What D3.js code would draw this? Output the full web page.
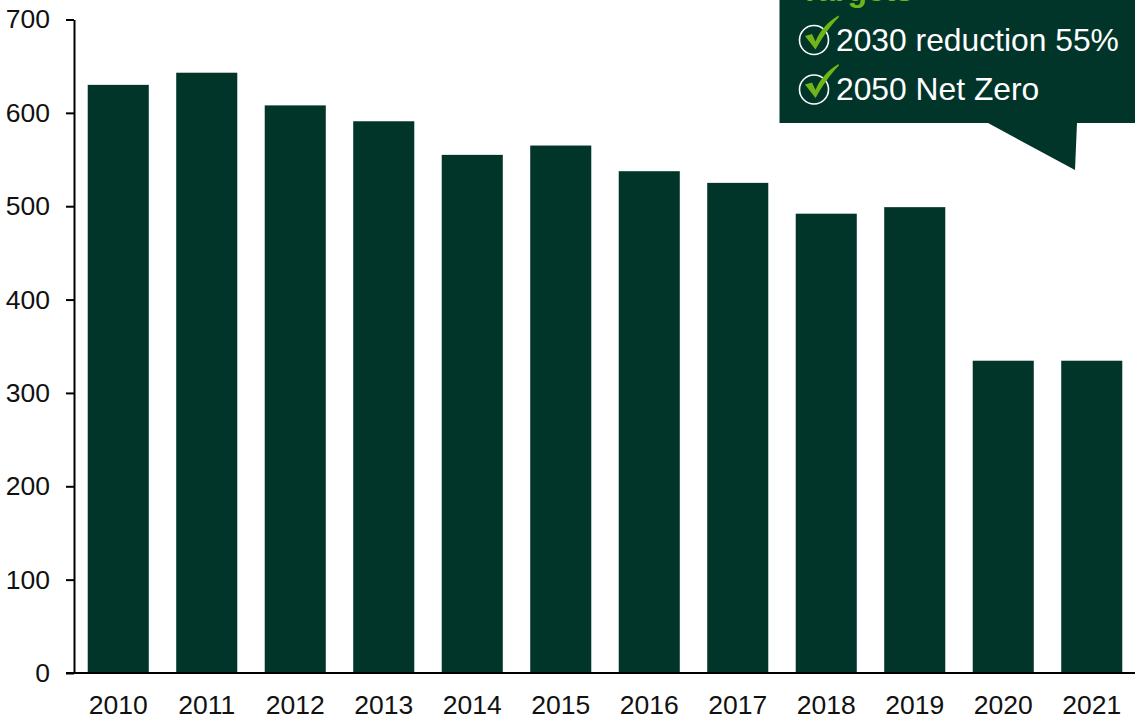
<!DOCTYPE html>
<html><head><meta charset="utf-8">
<script src="https://cdn.jsdelivr.net/npm/d3@7"></script>
<style>html,body{margin:0;padding:0;background:#fff}svg{display:block}text{font-family:"Liberation Sans",Arial,sans-serif}</style>
</head><body><svg id="c" width="1135" height="721"></svg>
<script>
const years=["2010","2011","2012","2013","2014","2015","2016","2017","2018","2019","2020","2021"];
const values=[630,643,608,591,555,565,537.5,525,492,499,334.5,334.5];
const yTicks=[0,100,200,300,400,500,600,700];
const targetsTitle="Targets";
const targets=["2030 reduction 55%","2050 Net Zero"];
const dark="#02352a",green="#6fb517";
const svg=d3.select("#c");
const x=d3.scaleBand().domain(years).range([74,1136]).paddingInner(0.31).paddingOuter(0.155);
const y=d3.scaleLinear().domain([0,700]).range([673,19.5]);
svg.append("g").selectAll("rect").data(values).join("rect")
 .attr("x",(d,i)=>x(years[i])).attr("width",x.bandwidth())
 .attr("y",d=>y(d)).attr("height",d=>y(0)-y(d)).attr("fill",dark);
const ay=svg.append("g").attr("transform","translate(74,0)")
 .call(d3.axisLeft(y).tickValues(yTicks).tickSize(8).tickPadding(8).tickSizeOuter(0));
ay.selectAll("path,line").attr("stroke","#000").attr("stroke-width",2);
ay.selectAll("text").attr("font-size",26.5).attr("fill","#111").attr("x",-24).style("font-family",'"Liberation Sans",Arial,sans-serif');
const ax=svg.append("g").attr("transform","translate(0,673)")
 .call(d3.axisBottom(x).tickSize(0).tickPadding(22));
ax.select("path").attr("stroke","#000").attr("stroke-width",2).attr("d","M66,0H1135");
ax.selectAll("text").attr("font-size",26.5).attr("fill","#111").style("font-family",'"Liberation Sans",Arial,sans-serif');
// callout
const g=svg.append("g");
g.append("path").attr("fill",dark)
 .attr("d","M779.5,0V123H988L1075,170L1077,123H1135V0Z");
g.append("text").attr("x",800).attr("y",1).attr("font-size",32).attr("font-weight",700).attr("fill",green).text(targetsTitle);
const rowY=[40,88.5];
targets.forEach((t,i)=>{
 const r=g.append("g").attr("transform",`translate(0,${rowY[i]})`);
 r.append("circle").attr("cx",814).attr("cy",i?1:0).attr("r",14.5).attr("fill","none").attr("stroke","#fff").attr("stroke-width",1.6);
 r.append("path").attr("fill",green).attr("d","M805,-4L812,-6L815.5,1.5C820,-10 829,-19 838.5,-24.5L839,-23C830,-14 822,-2 815.5,9.5Z");
 r.append("text").attr("x",836).attr("y",11).attr("font-size",31.8).attr("fill","#fff").text(t);
});
</script></body></html>
